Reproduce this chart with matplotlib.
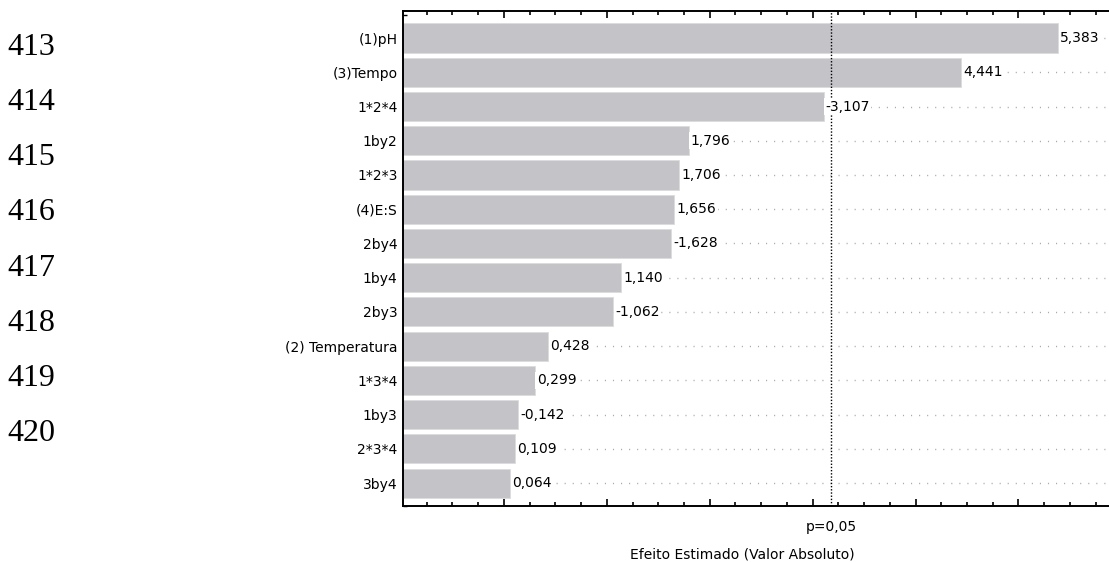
import matplotlib
matplotlib.use("Agg")
import matplotlib.pyplot as plt
import matplotlib.transforms as mtransforms
from matplotlib.ticker import MultipleLocator, NullFormatter
import numpy as np

# ---- data ----
factors = ["(1)pH", "(3)Tempo", "1*2*4", "1by2", "1*2*3", "(4)E:S", "2by4",
           "1by4", "2by3", "(2) Temperatura", "1*3*4", "1by3", "2*3*4", "3by4"]
effects = [5.383, 4.441, -3.107, 1.796, 1.706, 1.656, -1.628,
           1.140, -1.062, 0.428, 0.299, -0.142, 0.109, 0.064]
p_crit = 3.182
p_label = "p=0,05"
x_label = "Efeito Estimado (Valor Absoluto)"
line_numbers = ["413", "414", "415", "416", "417", "418", "419", "420"]
line_baselines_px = [55, 110, 165, 220, 276, 331, 386, 441]

W, H = 1109, 562
fig = plt.figure(figsize=(W / 100, H / 100), dpi=100)
fig.patch.set_facecolor("white")

ax_left, ax_right, ax_top, ax_bottom = 403, 1109, 11, 506
ax = fig.add_axes([ax_left / W, (H - ax_bottom) / H,
                   (ax_right - ax_left) / W, (ax_bottom - ax_top) / H])

x0 = -0.98
xr = 5.88
ax.set_xlim(x0, xr)
ax.set_ylim(13.67, -0.79)

ypos = np.arange(len(factors))
absvals = np.abs(effects)

# grid lines at bar centres
for y in ypos:
    ax.axhline(y, color="#ababab", lw=1.0, linestyle=(0, (0.8, 5.0)), zorder=1)

ax.barh(ypos, absvals - x0, left=x0, height=0.85, color="#c4c3c7",
        edgecolor="#dcdcdc", linewidth=0.6, zorder=2)

ax.axvline(p_crit, color="black", lw=1.0, linestyle=(0, (1, 1.3)), zorder=3)

for y, v, e in zip(ypos, absvals, effects):
    txt = f"{e:.3f}".replace(".", ",")
    ax.annotate(txt, xy=(v, y), xytext=(1.5, 0), textcoords="offset points",
                ha="left", va="center", fontsize=10, color="black", zorder=4,
                bbox=dict(boxstyle="square,pad=0.1", fc="white", ec="none"))

ax.set_yticks(ypos)
ax.set_yticklabels(factors, fontsize=10)
ax.yaxis.set_minor_locator(MultipleLocator(1 / 3))
ax.xaxis.set_major_locator(MultipleLocator(1))
ax.xaxis.set_minor_locator(MultipleLocator(0.25))
ax.xaxis.set_major_formatter(NullFormatter())
ax.tick_params(axis="x", which="both", direction="in", top=True, bottom=True,
               labelbottom=False, width=1.2, color="black")
ax.tick_params(axis="x", which="major", length=5)
ax.tick_params(axis="x", which="minor", length=3)
ax.tick_params(axis="y", which="both", direction="in", left=True, right=False,
               width=1.0, color="black", pad=4)
ax.tick_params(axis="y", which="major", length=5)
ax.tick_params(axis="y", which="minor", length=3)

for s in ["left", "top", "bottom"]:
    ax.spines[s].set_linewidth(1.4)
    ax.spines[s].set_color("black")
ax.spines["right"].set_visible(False)

blend = mtransforms.blended_transform_factory(ax.transData, ax.transAxes)
ax.text(p_crit, (ax_bottom - 527) / (ax_bottom - ax_top), p_label,
        transform=blend, ha="center", va="center", fontsize=10)
ax.text((743 - 504.6) / 102.8, (ax_bottom - 554) / (ax_bottom - ax_top), x_label,
        transform=blend, ha="center", va="center", fontsize=10, clip_on=False)

for num, yb in zip(line_numbers, line_baselines_px):
    fig.text(7 / W, (H - yb) / H, num, fontsize=23, family="Liberation Serif",
             ha="left", va="baseline", color="black")

fig.savefig("out.png", dpi=100, facecolor="white")
